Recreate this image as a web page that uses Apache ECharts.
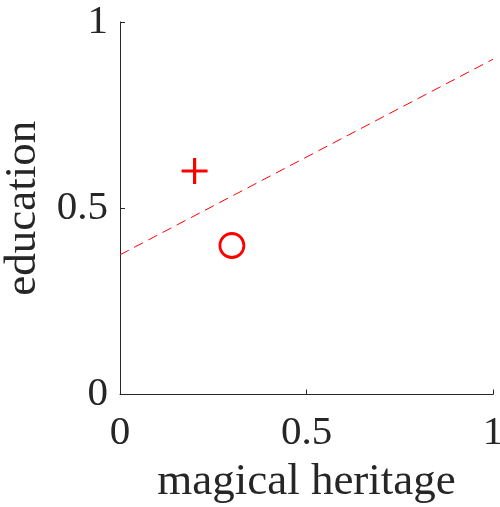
<!DOCTYPE html>
<html><head><meta charset="utf-8">
<script src="https://cdn.jsdelivr.net/npm/echarts@6/dist/echarts.min.js"></script>
<style>html,body{margin:0;padding:0;background:#fff}#c{width:500px;height:507px}</style>
</head><body><div id="c"></div>
<script>
const xTicks = [0, 0.5, 1];
const yTicks = [0, 0.5, 1];
const lineX = [0, 1];
const lineY = [0.375, 0.9];
const plusPoint = [0.2, 0.6];
const circlePoint = [0.3, 0.4];
const xName = 'magical heritage';
const yName = 'education';

const font = 'Liberation Serif';
const axisCol = '#262626';
const chart = echarts.init(document.getElementById('c'), null, {renderer: 'canvas'});
const fmt = v => (xTicks.includes(v) || yTicks.includes(v)) ? String(v) : '';
chart.setOption({
  animation: false,
  grid: {left: 120, top: 22, width: 373, height: 372.5, containLabel: false, outerBoundsMode: 'none'},
  xAxis: {
    type: 'value', min: 0, max: 1, interval: 0.5,
    name: xName, nameLocation: 'middle', nameGap: 65,
    nameTextStyle: {fontFamily: font, fontSize: 45, color: axisCol},
    axisLine: {lineStyle: {color: axisCol, width: 1}},
    axisTick: {inside: true, length: 5, lineStyle: {color: axisCol}},
    axisLabel: {fontFamily: font, fontSize: 41, color: axisCol, margin: 18, formatter: fmt, hideOverlap: false},
    splitLine: {show: false}
  },
  yAxis: {
    type: 'value', min: 0, max: 1, interval: 0.5,
    name: yName, nameLocation: 'middle', nameGap: 69, nameRotate: 90,
    nameTextStyle: {fontFamily: font, fontSize: 45, color: axisCol},
    axisLine: {lineStyle: {color: axisCol, width: 1}},
    axisTick: {inside: true, length: 5, lineStyle: {color: axisCol}},
    axisLabel: {fontFamily: font, fontSize: 41, color: axisCol, margin: 12, formatter: fmt, hideOverlap: false},
    splitLine: {show: false}
  },
  series: [
    {
      type: 'line', data: lineX.map((x, i) => [x, lineY[i]]),
      showSymbol: false, symbol: 'none',
      lineStyle: {color: '#ff0000', width: 1, type: [10, 6]}
    },
    {
      type: 'scatter', data: [plusPoint],
      symbol: 'path://M0,-1 L0,1 M-1,0 L1,0', symbolSize: 26,
      itemStyle: {color: 'rgba(0,0,0,0)', borderColor: '#ff0000', borderWidth: 3.2, opacity: 1}
    },
    {
      type: 'scatter', data: [circlePoint],
      symbol: 'circle', symbolSize: 24,
      itemStyle: {color: 'rgba(0,0,0,0)', borderColor: '#ff0000', borderWidth: 2.8, opacity: 1}
    }
  ]
});
</script></body></html>
